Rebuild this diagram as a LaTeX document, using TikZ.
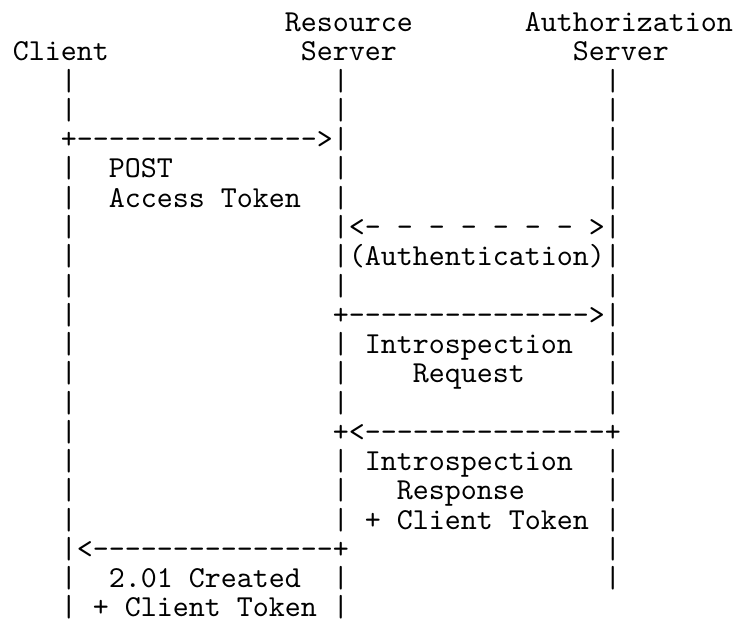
\documentclass[tikz,border=0pt]{standalone}
\usepackage{fontspec}
\setmonofont{lmmono10-regular.otf}
\tikzset{
  asciirow/.style={anchor=base west, inner sep=0pt, outer sep=0pt, text=black,
    font=\ttfamily\fontsize{22.857pt}{24pt}\selectfont}
}
% #1 name, #2 column, #3 row, #4 text
\newcommand\asciiline[4]{\node[asciirow] (#1) at ({(9.6+12*#2)*1pt},{-(1.785+21.95*#3)*1pt}) {#4};}
\begin{document}
\begin{tikzpicture}
\useasboundingbox (0,0) rectangle (552pt,-465.75pt);
\asciiline{r1}{17}{1}{Resource~~~~~~~Authorization}
\asciiline{r2}{0}{2}{Client~~~~~~~~~~~~Server~~~~~~~~~~~Server}
\asciiline{r3}{3}{3}{|~~~~~~~~~~~~~~~~|~~~~~~~~~~~~~~~~|}
\asciiline{r4}{3}{4}{|~~~~~~~~~~~~~~~~|~~~~~~~~~~~~~~~~|}
\asciiline{r5}{3}{5}{+--------------->|~~~~~~~~~~~~~~~~|}
\asciiline{r6}{3}{6}{|~~POST~~~~~~~~~~|~~~~~~~~~~~~~~~~|}
\asciiline{r7}{3}{7}{|~~Access~Token~~|~~~~~~~~~~~~~~~~|}
\asciiline{r8}{3}{8}{|~~~~~~~~~~~~~~~~|<-~-~-~-~-~-~-~>|}
\asciiline{r9}{3}{9}{|~~~~~~~~~~~~~~~~|(Authentication)|}
\asciiline{r10}{3}{10}{|~~~~~~~~~~~~~~~~|~~~~~~~~~~~~~~~~|}
\asciiline{r11}{3}{11}{|~~~~~~~~~~~~~~~~+--------------->|}
\asciiline{r12}{3}{12}{|~~~~~~~~~~~~~~~~|~Introspection~~|}
\asciiline{r13}{3}{13}{|~~~~~~~~~~~~~~~~|~~~~Request~~~~~|}
\asciiline{r14}{3}{14}{|~~~~~~~~~~~~~~~~|~~~~~~~~~~~~~~~~|}
\asciiline{r15}{3}{15}{|~~~~~~~~~~~~~~~~+<---------------+}
\asciiline{r16}{3}{16}{|~~~~~~~~~~~~~~~~|~Introspection~~|}
\asciiline{r17}{3}{17}{|~~~~~~~~~~~~~~~~|~~~Response~~~~~|}
\asciiline{r18}{3}{18}{|~~~~~~~~~~~~~~~~|~+~Client~Token~|}
\asciiline{r19}{3}{19}{|<---------------+~~~~~~~~~~~~~~~~|}
\asciiline{r20}{3}{20}{|~~2.01~Created~~|~~~~~~~~~~~~~~~~|}
\asciiline{r21}{3}{21}{|~+~Client~Token~|}
\end{tikzpicture}
\end{document}
